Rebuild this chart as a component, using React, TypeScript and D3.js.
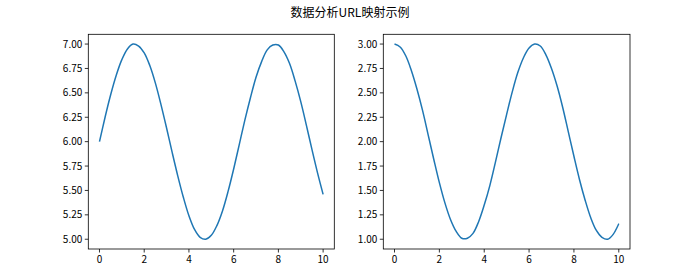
import React from "react";
import * as d3 from "d3";

const title = "数据分析URL映射示例";
const xValues = [
  0, 0.25, 0.5, 0.75, 1, 1.25, 1.5, 1.75, 2, 2.25, 2.5, 2.75, 3, 3.25, 3.5, 3.75, 4, 4.25, 4.5, 4.75,
  5, 5.25, 5.5, 5.75, 6, 6.25, 6.5, 6.75, 7, 7.25, 7.5, 7.75, 8, 8.25, 8.5, 8.75, 9, 9.25, 9.5, 9.75, 10,
];
const leftValues = [
  6.0, 6.25, 6.48, 6.68, 6.84, 6.95, 7.0, 6.98, 6.91, 6.78, 6.6, 6.38, 6.14, 5.89, 5.65, 5.43, 5.24, 5.1, 5.02, 5.0,
  5.04, 5.14, 5.29, 5.49, 5.72, 5.97, 6.22, 6.45, 6.66, 6.82, 6.94, 6.99, 6.99, 6.92, 6.8, 6.62, 6.41, 6.17, 5.92, 5.68, 5.46,
];
const rightValues = [
  3.0, 2.97, 2.88, 2.73, 2.54, 2.32, 2.07, 1.82, 1.58, 1.37, 1.2, 1.08, 1.01, 1.01, 1.06, 1.18, 1.35, 1.55, 1.79, 2.04,
  2.28, 2.51, 2.71, 2.86, 2.96, 3.0, 2.98, 2.89, 2.75, 2.57, 2.35, 2.1, 1.85, 1.61, 1.4, 1.22, 1.09, 1.02, 1.0, 1.05, 1.16,
];
const xTicks = [0, 2, 4, 6, 8, 10];
const leftYTicks = [5.0, 5.25, 5.5, 5.75, 6.0, 6.25, 6.5, 6.75, 7.0];
const rightYTicks = [1.0, 1.25, 1.5, 1.75, 2.0, 2.25, 2.5, 2.75, 3.0];

const FONT = "'Noto Sans CJK SC', 'DejaVu Sans', sans-serif";
const LINE = "#1f77b4";

function Panel({ x0, x1, y0, y1, values, yDomain, yTicks }: any) {
  const xs = d3.scaleLinear().domain([-0.5, 10.5]).range([x0, x1]);
  const ys = d3.scaleLinear().domain(yDomain).range([y1, y0]);
  const line = d3
    .line<number>()
    .x((_, i) => xs(xValues[i]))
    .y((d) => ys(d))
    .curve(d3.curveCatmullRom);
  return (
    <g>
      <path d={line(values) || ""} fill="none" stroke={LINE} strokeWidth={1.5} />
      <rect x={x0} y={y0} width={x1 - x0} height={y1 - y0} fill="none" stroke="#000" strokeWidth={0.8} />
      {xTicks.map((t) => (
        <g key={"x" + t}>
          <line x1={xs(t)} x2={xs(t)} y1={y1} y2={y1 + 3.5} stroke="#000" strokeWidth={0.8} />
          <text x={xs(t)} y={y1 + 14} textAnchor="middle" fontSize={10} fontFamily={FONT} fill="#000">
            {t}
          </text>
        </g>
      ))}
      {yTicks.map((t: number) => (
        <g key={"y" + t}>
          <line x1={x0 - 3.5} x2={x0} y1={ys(t)} y2={ys(t)} stroke="#000" strokeWidth={0.8} />
          <text x={x0 - 6} y={ys(t) + 3.5} textAnchor="end" fontSize={10} fontFamily={FONT} fill="#000">
            {t.toFixed(2)}
          </text>
        </g>
      ))}
    </g>
  );
}

export default function App() {
  return (
    <svg width={700} height={280} style={{ position: "absolute", left: 0, top: 0, background: "#fff" }}>
      <rect width={700} height={280} fill="#fff" />
      <text x={350} y={17} textAnchor="middle" fontSize={12} fontFamily={FONT} fill="#000">
        {title}
      </text>
      <Panel x0={88.3} x1={334.3} y0={34.3} y1={249} values={leftValues} yDomain={[4.9, 7.1]} yTicks={leftYTicks} />
      <Panel x0={383.3} x1={630} y0={34.3} y1={249} values={rightValues} yDomain={[0.9, 3.1]} yTicks={rightYTicks} />
    </svg>
  );
}
